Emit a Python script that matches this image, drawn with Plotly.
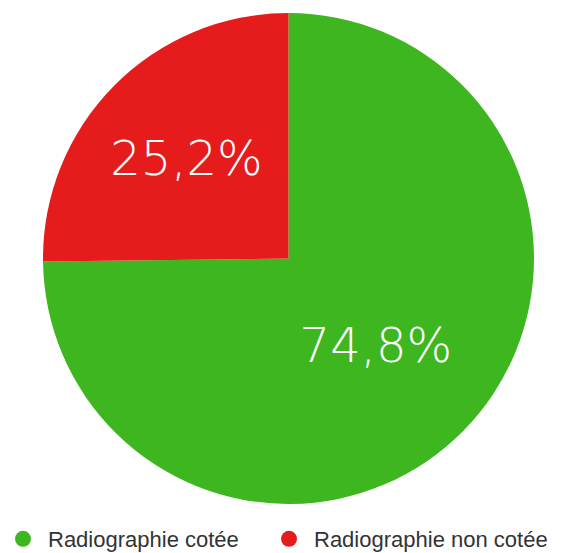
import plotly.graph_objects as go

labels = ["Radiographie cotée", "Radiographie non cotée"]
values = [74.8, 25.2]
text_labels = ["74,8%", "25,2%"]
colors = ["#3DB61F", "#E51B1C"]

W, H = 567, 553
fig = go.Figure()
fig.add_trace(go.Pie(
    labels=labels, values=values, text=text_labels,
    textinfo="text", textposition="inside", insidetextorientation="horizontal",
    sort=False, direction="clockwise", rotation=0,
    marker=dict(colors=colors, line=dict(width=0)),
    textfont=dict(family="DejaVu Sans", size=48, color="white", weight=200),
    domain=dict(x=[35 / W, 526 / W], y=[1 - 497 / H, 1 - 4 / H]),
    showlegend=False, hoverinfo="label+percent",
))
legend_ids = ["legend", "legend2"]
for lab, col, lg in zip(labels, colors, legend_ids):
    fig.add_trace(go.Scatter(
        x=[None], y=[None], mode="markers", name=lab, legend=lg,
        marker=dict(symbol="circle", size=22, color=col),
    ))

leg_common = dict(orientation="h", xanchor="left", y=1 - 531 / H, yanchor="middle",
                  font=dict(family="Liberation Sans, Arial", size=22, color="#333333"),
                  itemwidth=40, bgcolor="rgba(0,0,0,0)")
fig.update_layout(
    width=W, height=H, margin=dict(l=0, r=0, t=0, b=0, autoexpand=False),
    paper_bgcolor="white", plot_bgcolor="white",
    xaxis=dict(visible=False), yaxis=dict(visible=False),
    legend=dict(x=-10 / W, **leg_common),
    legend2=dict(x=256 / W, **leg_common),
)
fig.write_html("out.html")
